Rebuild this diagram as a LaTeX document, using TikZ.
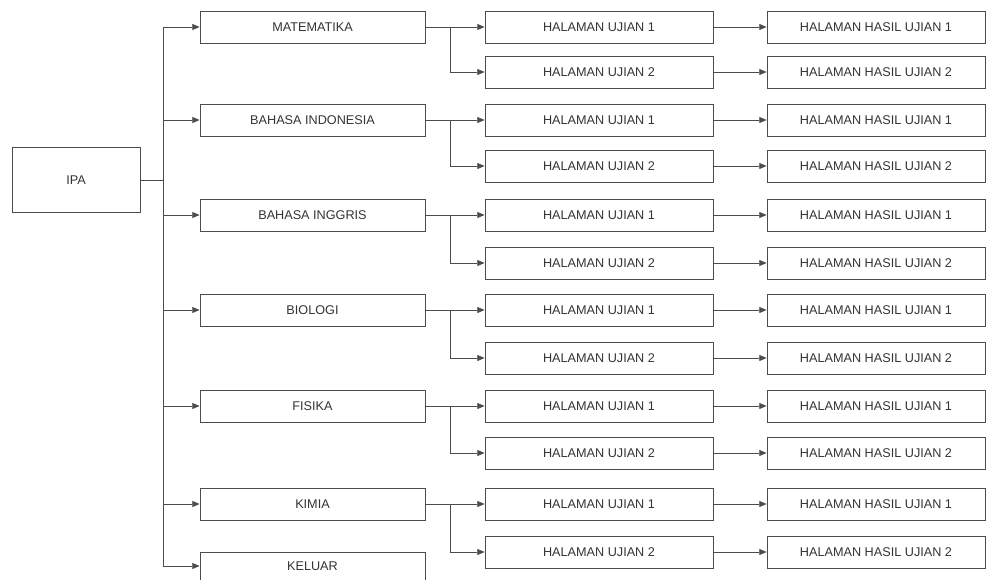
\documentclass[tikz,border=0pt]{standalone}
\usepackage{fontspec}
\setmainfont{Liberation Sans}
\usetikzlibrary{arrows.meta}
\begin{document}
\begin{tikzpicture}[x=0.75pt,y=-0.75pt,
  box/.style={draw=black!70,line width=0.6pt,minimum height=24pt,inner sep=0pt,
    font=\fontsize{9.5}{11}\selectfont,text=black!80},
  subj/.style={box,minimum width=168.75pt},
  ujian/.style={box,minimum width=171pt},
  hasil/.style={box,minimum width=163.5pt},
  ln/.style={draw=black!70,line width=0.6pt},
  arr/.style={ln,-{Triangle[length=5.5pt,width=4.5pt]}}]
\useasboundingbox (0,0) rectangle (988,580);
% root
\node[box,minimum width=96pt,minimum height=48.75pt] (ipa) at (76,180) {IPA};
\coordinate (tr) at (163,180);
\coordinate (ttop) at (163,27);
\coordinate (tbot) at (163,566);
\draw[ln] (ipa) -- (tr);
\draw[ln] (ttop) -- (tbot);
% subjects
\node[subj] (mat) at (312.5,27) {MATEMATIKA};
\node[subj] (bind) at (312.5,120) {BAHASA INDONESIA};
\node[subj] (bing) at (312.5,215) {BAHASA INGGRIS};
\node[subj] (bio) at (312.5,310) {BIOLOGI};
\node[subj] (fis) at (312.5,406) {FISIKA};
\node[subj] (kim) at (312.5,504) {KIMIA};
\node[subj,minimum height=21pt] (kel) at (312.5,566) {KELUAR};
\foreach \n/\y in {mat/27,bind/120,bing/215,bio/310,fis/406,kim/504,kel/566}{
  \coordinate (t-\n) at (163,\y);
  \draw[arr] (t-\n) -- (\n);
}
% ujian and hasil
\foreach \n/\ya/\yb in {mat/27/72,bind/120/166,bing/215/263,bio/310/358,fis/406/453,kim/504/552}{
  \node[ujian] (\n-u1) at (599,\ya) {HALAMAN UJIAN 1};
  \node[ujian] (\n-u2) at (599,\yb) {HALAMAN UJIAN 2};
  \node[hasil] (\n-h1) at (876,\ya) {HALAMAN HASIL UJIAN 1};
  \node[hasil] (\n-h2) at (876,\yb) {HALAMAN HASIL UJIAN 2};
  \coordinate (s-\n) at (450,\ya);
  \draw[ln] (\n) -- (s-\n);
  \draw[arr] (s-\n) -- (\n-u1);
  \draw[arr] (s-\n) |- (\n-u2);
  \draw[arr] (\n-u1) -- (\n-h1);
  \draw[arr] (\n-u2) -- (\n-h2);
}
\end{tikzpicture}
\end{document}
